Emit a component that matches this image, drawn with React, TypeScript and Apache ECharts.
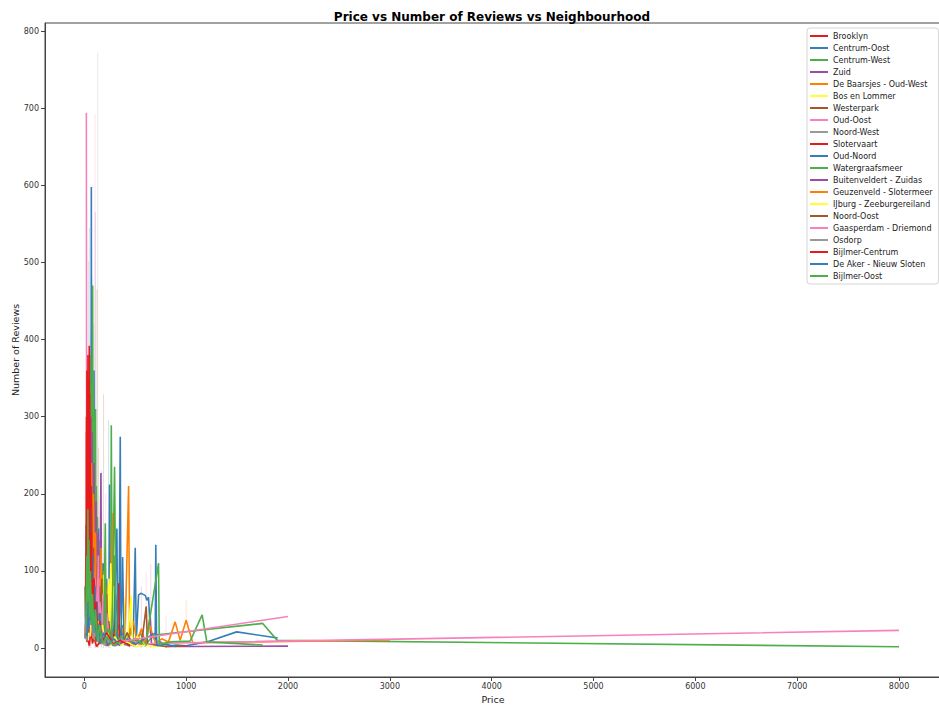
import React, { useEffect, useRef } from "react";
import * as echarts from "echarts";

const neighbourhoods = [
  "Brooklyn", "Centrum-Oost", "Centrum-West", "Zuid", "De Baarsjes - Oud-West",
  "Bos en Lommer", "Westerpark", "Oud-Oost", "Noord-West", "Slotervaart",
  "Oud-Noord", "Watergraafsmeer", "Buitenveldert - Zuidas", "Geuzenveld - Slotermeer",
  "IJburg - Zeeburgereiland", "Noord-Oost", "Gaasperdam - Driemond", "Osdorp",
  "Bijlmer-Centrum", "De Aker - Nieuw Sloten", "Bijlmer-Oost",
];

const palette = ["#e41a1c", "#377eb8", "#4daf4a", "#984ea3", "#ff7f00", "#ffff33", "#a65628", "#f781bf", "#999999"];

const xTicks = [0, 1000, 2000, 3000, 4000, 5000, 6000, 7000, 8000];
const yTicks = [0, 100, 200, 300, 400, 500, 600, 700, 800];

// [price, mean number of reviews]
const brooklyn = [[35,10],[50,3],[65,25],[80,6],[95,14],[120,2],[160,9],[220,4],[320,11],[450,11]];
const centrumOost = [[8,12],[15,60],[20,30],[25,80],[30,150],[35,60],[40,210],[45,110],[50,270],[55,140],[60,330],[65,90],[69,598],[72,120],[75,250],[80,60],[85,300],[90,140],[95,360],[100,70],[105,210],[110,45],[115,160],[120,90],[125,30],[130,120],[135,40],[140,155],[145,55],[150,95],[155,20],[160,125],[165,25],[170,80],[175,30],[180,100],[185,40],[190,110],[195,20],[200,70],[210,60],[215,15],[220,90],[230,45],[240,12],[248,212],[255,20],[265,50],[275,8],[290,35],[300,15],[310,60],[330,10],[340,25],[353,274],[360,6],[380,30],[400,8],[430,20],[460,5],[480,10],[500,130],[510,10],[533,69],[560,71],[600,68],[614,62],[630,66],[650,20],[696,10],[702,134],[710,3],[750,8],[800,2],[900,4],[1000,3],[1203,8],[1496,21],[1899,13]];
const centrumWest = [[5,80],[10,40],[15,120],[20,160],[25,60],[30,250],[35,120],[40,330],[45,90],[50,280],[53,190],[55,150],[58,360],[60,380],[62,220],[65,70],[68,340],[70,300],[73,150],[75,180],[78,310],[82,470],[85,110],[88,350],[90,260],[93,180],[95,60],[98,300],[100,220],[103,120],[105,140],[108,250],[110,310],[113,90],[115,50],[118,210],[120,190],[125,80],[128,170],[130,150],[135,30],[140,120],[145,70],[150,60],[155,140],[160,100],[165,40],[170,25],[175,110],[180,90],[185,30],[190,40],[195,95],[200,75],[210,20],[215,30],[220,80],[225,60],[230,20],[240,15],[245,70],[250,45],[258,10],[265,289],[275,20],[285,50],[297,120],[305,15],[320,40],[340,10],[360,30],[400,8],[450,25],[500,6],[550,20],[600,4],[650,12],[696,17],[1752,32],[1895,10],[8000,1.7]];
const zuid = [[10,30],[15,20],[25,90],[35,40],[45,160],[55,70],[60,260],[65,300],[68,150],[70,120],[75,280],[80,200],[85,110],[90,60],[95,240],[100,140],[105,70],[110,30],[115,190],[120,95],[130,45],[135,150],[140,80],[150,20],[163,227],[170,35],[185,60],[200,15],[220,45],[250,10],[280,30],[320,8],[380,20],[450,5],[520,15],[600,3],[647,41],[660,6],[700,4],[800,2],[1000,2],[2000,2.5]];
const deBaarsjes = [[10,20],[20,40],[30,110],[40,60],[50,180],[60,90],[70,240],[80,130],[90,200],[100,70],[110,150],[120,40],[130,110],[140,55],[150,90],[158,40],[165,130],[172,30],[180,70],[188,25],[195,100],[203,20],[210,55],[220,15],[230,80],[240,15],[250,40],[265,95],[281,175],[290,20],[300,60],[310,45],[330,8],[360,30],[400,12],[435,210],[445,15],[480,35],[520,8],[560,25],[600,5],[640,30],[700,6],[760,12],[826,8],[892,34],[941,10],[1000,36],[1065,7],[3000,10.5]];
const bosEnLommer = [[12,30],[20,15],[30,60],[40,25],[50,90],[60,35],[70,120],[80,50],[90,100],[100,20],[110,70],[120,30],[135,85],[150,15],[165,60],[180,25],[190,95],[200,75],[215,10],[230,45],[240,90],[250,20],[260,110],[270,55],[280,15],[290,80],[300,8],[310,40],[320,70],[330,15],[350,25],[386,67],[400,10],[430,20],[460,68],[475,5],[520,15],[600,3],[700,2],[800,4]];
const westerpark = [[10,15],[20,30],[30,100],[40,45],[50,150],[60,70],[70,210],[80,60],[90,130],[100,35],[110,90],[120,25],[128,110],[135,70],[142,25],[150,80],[158,20],[165,55],[172,90],[180,15],[190,60],[200,50],[210,10],[220,70],[230,10],[240,35],[260,8],[280,25],[300,12],[340,30],[380,6],[420,20],[470,5],[520,12],[560,3],[608,54],[620,6],[700,4],[800,2],[1000,3]];
const oudOost = [[10,40],[20,25],[30,120],[40,50],[50,200],[60,80],[70,150],[80,40],[90,110],[100,30],[110,90],[120,20],[130,70],[138,120],[145,15],[152,60],[160,50],[168,15],[175,10],[182,70],[190,40],[200,20],[210,8],[220,45],[230,30],[250,6],[280,20],[300,5],[340,18],[400,4],[480,10],[560,3],[650,6],[8000,23]];
const noordWest = [[15,20],[25,80],[35,30],[45,140],[55,50],[65,100],[75,25],[85,70],[95,15],[110,50],[125,10],[140,35],[160,8],[180,25],[200,5],[240,15],[280,3],[350,8],[450,2]];
const slotervaart = [[18,120],[20,50],[22,280],[24,140],[25,200],[27,330],[28,90],[30,250],[32,160],[33,310],[35,300],[37,180],[38,350],[40,150],[42,290],[43,200],[45,260],[47,340],[49,392],[51,180],[53,300],[55,110],[57,260],[60,220],[62,140],[65,60],[67,200],[70,160],[75,40],[80,120],[85,60],[90,30],[95,90],[100,80],[110,20],[120,60],[135,15],[150,45],[170,10],[190,30],[210,6],[240,20],[280,4],[337,84],[345,5],[400,10],[500,3]];
const oudNoord = [[20,30],[30,100],[40,50],[49,250],[55,70],[65,180],[75,40],[85,120],[95,25],[105,80],[115,20],[125,60],[140,15],[155,45],[170,8],[190,30],[210,5],[230,20],[262,10],[290,25],[320,155],[328,6],[360,15],[376,118],[390,4],[420,12],[505,5],[560,10],[706,20],[712,3],[800,5],[900,2]];
const watergraafsmeer = [[20,20],[30,80],[40,35],[50,130],[60,50],[70,100],[80,25],[90,70],[100,15],[110,50],[120,10],[135,40],[150,8],[170,30],[190,5],[206,162],[215,8],[240,25],[270,6],[297,235],[312,5],[360,15],[420,4],[500,12],[600,3],[729,110],[736,5],[850,8],[1039,9],[1157,43],[1203,8],[1752,4]];
const buitenveldert = [[25,10],[40,60],[55,20],[70,90],[85,30],[100,60],[115,10],[130,40],[150,6],[170,25],[200,4],[250,15],[300,3],[400,8],[500,2]];
const geuzenveld = [[20,15],[30,70],[40,30],[50,110],[60,40],[70,80],[80,20],[90,55],[100,10],[115,40],[130,8],[150,25],[175,5],[200,15],[250,4],[300,10]];
const ijburg = [[30,10],[45,40],[60,15],[75,60],[90,20],[105,45],[120,10],[140,35],[160,8],[180,30],[200,5],[230,20],[260,4],[300,15],[350,3],[420,8],[500,2],[600,4]];
const noordOost = [[25,8],[35,50],[45,20],[55,80],[65,30],[75,60],[85,15],[100,40],[115,8],[130,25],[150,5],[180,15],[220,3],[280,8]];
const gaasperdam = [[20,694],[24,40],[30,120],[38,60],[45,150],[55,30],[65,90],[75,20],[90,45],[110,15],[150,30],[222,6],[2000,41]];
const osdorp = [[20,10],[30,60],[40,25],[50,90],[60,30],[75,55],[90,12],[110,35],[130,8],[160,20],[200,4],[250,10],[320,3]];
const bijlmerCentrum = [[19,160],[20,80],[21,300],[23,120],[25,180],[26,360],[28,140],[30,110],[31,290],[33,170],[35,260],[36,380],[38,130],[40,140],[41,320],[43,200],[45,340],[46,150],[48,280],[50,120],[52,330],[55,230],[57,100],[60,70],[62,210],[65,90],[70,150],[80,40],[90,90],[100,25],[115,60],[130,15],[150,35],[180,8],[220,20],[280,5],[350,10],[450,3]];
const deAker = [[25,15],[35,60],[45,25],[55,100],[65,35],[75,70],[90,20],[105,50],[120,10],[140,30],[160,6],[190,20],[230,4],[290,12],[350,3]];
const bijlmerOost = [[20,30],[25,120],[30,60],[35,180],[40,80],[45,140],[50,40],[60,100],[70,30],[80,70],[95,20],[110,50],[130,10],[150,30],[180,6],[220,15],[280,4],[350,8]];

const seriesPoints = [
  brooklyn, centrumOost, centrumWest, zuid, deBaarsjes, bosEnLommer, westerpark, oudOost,
  noordWest, slotervaart, oudNoord, watergraafsmeer, buitenveldert, geuzenveld, ijburg,
  noordOost, gaasperdam, osdorp, bijlmerCentrum, deAker, bijlmerOost,
];

// confidence interval spans: [price, low, high, neighbourhood index]
const ciBands = [
  [131, 0, 772, 8], [105, 0, 692, 7], [108, 0, 565, 3], [124, 0, 465, 6], [49, 0, 545, 1],
  [40, 0, 502, 8], [189, 0, 329, 6], [238, 0, 296, 1], [608, 0, 99, 7], [653, 0, 109, 3],
  [1000, 34, 62, 4], [804, 6, 41, 7], [65, 0, 409, 3], [75, 100, 480, 2], [95, 50, 420, 8],
  [140, 0, 260, 6], [170, 0, 230, 1], [210, 0, 200, 7], [250, 0, 150, 2], [560, 0, 80, 3],
];

export default function App() {
  const ref = useRef<HTMLDivElement>(null);
  useEffect(() => {
    const chart = echarts.init(ref.current!, null, { renderer: "svg" });
    const font = "DejaVu Sans";
    const axisColor = "#444";
    const lineSeries = neighbourhoods.map((name, i) => ({
      name,
      type: "line",
      data: seriesPoints[i],
      showSymbol: false,
      symbol: "none",
      z: 3,
      lineStyle: { color: palette[i % 9], width: 1.6 },
      itemStyle: { color: palette[i % 9] },
      emphasis: { disabled: true },
    }));
    chart.setOption({
      animation: false,
      backgroundColor: "#fff",
      title: {
        text: "Price vs Number of Reviews vs Neighbourhood",
        left: 487,
        top: 6,
        textAlign: "center",
        textStyle: { fontFamily: font, fontSize: 12, fontWeight: "bold", color: "#000" },
      },
      legend: {
        data: neighbourhoods,
        orient: "vertical",
        left: 807,
        top: 28,
        padding: [3, 6, 3, 3],
        itemWidth: 18,
        itemHeight: 2,
        itemGap: 2,
        icon: "rect",
        borderColor: "#d5d5d5",
        borderWidth: 1,
        borderRadius: 3,
        backgroundColor: "#fff",
        textStyle: { fontFamily: font, fontSize: 8, lineHeight: 10, color: "#222" },
      },
      grid: {
        left: 45, top: 23, width: 896, height: 654,
        show: true, borderColor: axisColor, borderWidth: 1,
        containLabel: false, outerBoundsMode: "none",
      },
      xAxis: {
        type: "value",
        min: -386,
        max: 8412,
        splitLine: { show: false },
        axisLine: { show: true, onZero: false, lineStyle: { color: axisColor } },
        axisTick: { show: true, customValues: xTicks, length: 4, lineStyle: { color: axisColor } },
        axisLabel: {
          customValues: xTicks, fontFamily: font, fontSize: 8, color: "#333", margin: 5,
          formatter: (v: number) => String(v),
        },
        name: "Price",
        nameLocation: "middle",
        nameGap: 17,
        nameTextStyle: { fontFamily: font, fontSize: 9.5, color: "#222" },
      },
      yAxis: {
        type: "value",
        min: -37.5,
        max: 810.5,
        splitLine: { show: false },
        axisLine: { show: true, onZero: false, lineStyle: { color: axisColor } },
        axisTick: { show: true, customValues: yTicks, length: 4, lineStyle: { color: axisColor } },
        axisLabel: {
          customValues: yTicks, fontFamily: font, fontSize: 8, color: "#333", margin: 6,
          formatter: (v: number) => String(v),
        },
        name: "Number of Reviews",
        nameLocation: "middle",
        nameGap: 25,
        nameMoveOverlap: false,
        nameTextStyle: { fontFamily: font, fontSize: 9.5, color: "#222" },
      },
      series: [
        {
          name: "ci",
          type: "custom",
          z: 1,
          data: ciBands,
          encode: { x: 0, y: [1, 2] },
          renderItem: (params: any, api: any) => {
            const p = api.value(0);
            const a = api.coord([p, api.value(1)]);
            const b = api.coord([p, api.value(2)]);
            return {
              type: "line",
              shape: { x1: a[0], y1: a[1], x2: b[0], y2: b[1] },
              style: { stroke: palette[api.value(3) % 9], lineWidth: 1, opacity: 0.22 },
            };
          },
        },
        ...lineSeries,
      ],
    });
    return () => chart.dispose();
  }, []);
  return (
    <div
      ref={ref}
      style={{ position: "fixed", left: 0, top: 0, width: 939, height: 709, background: "#fff" }}
    />
  );
}
